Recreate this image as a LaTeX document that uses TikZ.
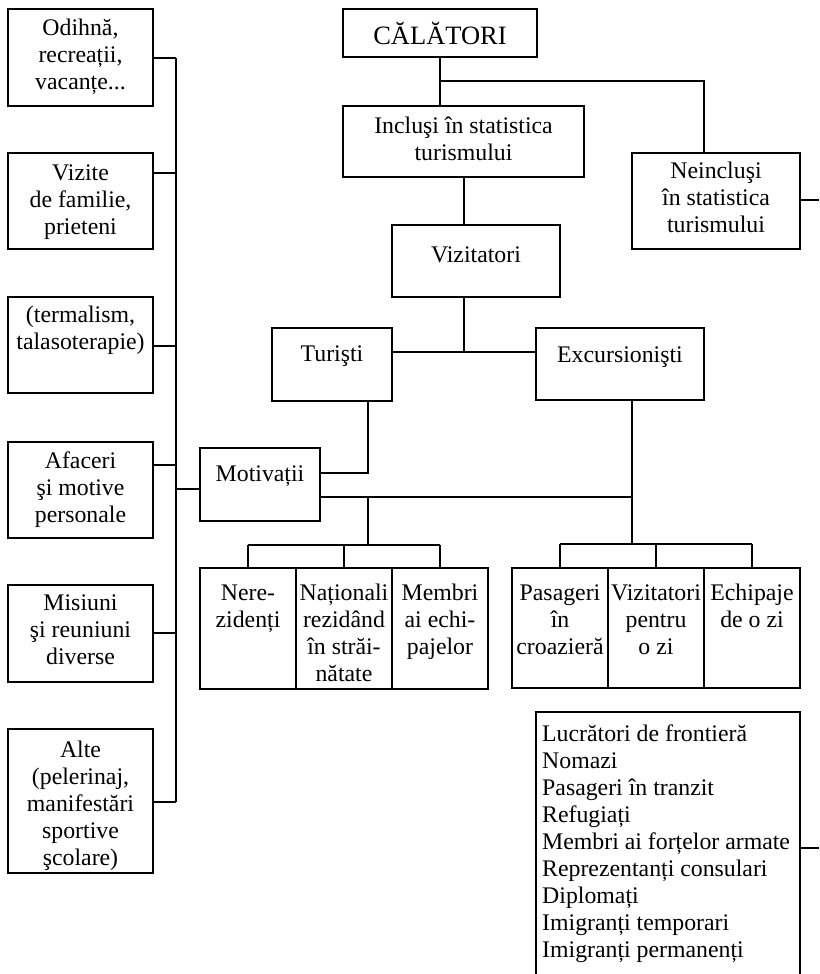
\documentclass[tikz,border=0pt]{standalone}
\usepackage{fontspec}
\setmainfont{Liberation Serif}
\usetikzlibrary{fit}
\newcommand\mkbox[5]{\node[box, fit={(#2,#3) (#4,#5)}] (#1) {};}
\begin{document}
\begin{tikzpicture}[x=1pt,y=-1pt,
  box/.style={draw, line width=1.5pt, inner sep=0pt, rectangle},
  lbl/.style={anchor=north, inner sep=0pt, align=center, font=\fontsize{23.8}{27}\selectfont},
  link/.style={line width=1.5pt, line join=miter}]
\useasboundingbox (0,0) rectangle (819,974);
\clip (0,0) rectangle (819,974);

% ---- boxes ----
\mkbox{cal}{343}{9}{537}{57}
\mkbox{inc}{343}{106}{584}{177}
\mkbox{neinc}{632}{153}{800}{249}
\mkbox{viz}{392}{225}{560}{297}
\mkbox{tur}{272}{328}{392}{401}
\mkbox{exc}{536}{328}{704}{400}
\mkbox{mot}{200}{448}{320}{521}

\mkbox{odihna}{8}{9}{153}{106}
\mkbox{vizite}{8}{153}{153}{249}
\mkbox{termal}{8}{297}{153}{393}
\mkbox{afaceri}{8}{442}{153}{538}
\mkbox{misiuni}{8}{585}{153}{682}
\mkbox{alte}{8}{729}{153}{873}

\mkbox{nerez}{200}{568}{296}{689}
\mkbox{natio}{296}{568}{392}{689}
\mkbox{membri}{392}{568}{488}{689}
\mkbox{pasag}{512}{568}{608}{688}
\mkbox{vizzi}{608}{568}{704}{688}
\mkbox{echip}{704}{568}{800}{688}

\mkbox{lista}{536}{712}{800}{1000}

% ---- texts ----
\node[lbl, anchor=base, font=\fontsize{26.5}{30}\selectfont] (t-cal) at (cal.center |- 0,45) {CĂLĂTORI};
\node[lbl] (t-inc) at ([yshift=-11pt]inc.north) {Incluşi în statistica\\turismului};
\node[lbl] (t-neinc) at ([yshift=-10pt]neinc.north) {Neincluşi\\în statistica\\turismului};
\node[lbl] (t-viz) at ([yshift=-22pt]viz.north) {Vizitatori};
\node[lbl] (t-tur) at ([yshift=-18pt]tur.north) {Turişti};
\node[lbl] (t-exc) at ([yshift=-19pt]exc.north) {Excursionişti};
\node[lbl] (t-mot) at ([yshift=-18pt]mot.north) {Motivații};

\node[lbl] (t-odihna) at ([yshift=-11pt]odihna.north) {Odihnă,\\recreații,\\vacanțe...};
\node[lbl] (t-vizite) at ([yshift=-12pt]vizite.north) {Vizite\\de familie,\\prieteni};
\node[lbl] (t-termal) at ([yshift=-10pt]termal.north) {(termalism,\\talasoterapie)};
\node[lbl] (t-afaceri) at ([yshift=-10pt]afaceri.north) {Afaceri\\şi motive\\personale};
\node[lbl] (t-misiuni) at ([yshift=-10pt]misiuni.north) {Misiuni\\şi reuniuni\\diverse};
\node[lbl] (t-alte) at ([yshift=-13pt]alte.north) {Alte\\(pelerinaj,\\manifestări\\sportive\\şcolare)};

\node[lbl] (t-nerez) at ([yshift=-17pt]nerez.north) {Nere-\\zidenți};
\node[lbl] (t-natio) at ([yshift=-17pt]natio.north) {Naționali\\rezidând\\în străi-\\nătate};
\node[lbl] (t-membri) at ([yshift=-17pt]membri.north) {Membri\\ai echi-\\pajelor};
\node[lbl] (t-pasag) at ([yshift=-17pt]pasag.north) {Pasageri\\în\\croazieră};
\node[lbl] (t-vizzi) at ([yshift=-17pt]vizzi.north) {Vizitatori\\pentru\\o zi};
\node[lbl] (t-echip) at ([yshift=-17pt]echip.north) {Echipaje\\de o zi};

\node[lbl, anchor=north west, align=left] (t-lista) at (542,725)
  {Lucrători de frontieră\\Nomazi\\Pasageri în tranzit\\Refugiați\\Membri ai forțelor armate\\Reprezentanți consulari\\Diplomați\\Imigranți temporari\\Imigranți permanenți};

% ---- junction points ----
\coordinate (j-cal) at (440,81);
\coordinate (n-top) at (704,153);
\coordinate (j-viz) at (464,352);
\coordinate (j-tur) at (368,473);
\coordinate (j-mot) at (368,497);
\coordinate (j-exc) at (632,497);
\coordinate (b-left) at (368,545);
\coordinate (b-right) at (632,544);
\coordinate (r-neinc) at (819,200);
\coordinate (r-lista) at (819,848);
\coordinate (spine-top) at (176,58);
\coordinate (spine-bot) at (176,802);

% ---- connectors ----
\draw[link] (cal.south -| j-cal) -- (j-cal |- inc.north);
\draw[link] (j-cal) -| (n-top);
\draw[link] (inc.south -| j-viz) -- (j-viz |- viz.north);
\draw[link] (viz.south -| j-viz) -- (j-viz);
\draw[link] (tur.east |- j-viz) -- (exc.west |- j-viz);
\draw[link] (tur.south -| j-tur) -- (j-tur) -- (mot.east |- j-tur);
\draw[link] (mot.east |- j-mot) -- (j-exc);
\draw[link] (exc.south -| j-exc) -- (b-right);
\draw[link] (j-mot) -- (b-left);
\draw[link] (nerez.north |- b-left) -- (membri.north |- b-left);
\draw[link] (pasag.north |- b-right) -- (echip.north |- b-right);
\foreach \n in {nerez,natio,membri}{\draw[link] (\n.north |- b-left) -- (\n.north);}
\foreach \n in {pasag,vizzi,echip}{\draw[link] (\n.north |- b-right) -- (\n.north);}
\draw[link] (neinc.east |- r-neinc) -- (r-neinc);
\draw[link] (lista.east |- r-lista) -- (r-lista);

\draw[link] (spine-top) -- (spine-bot);
\draw[link] (odihna.east |- spine-top) -- (spine-top);
\draw[link] (vizite.east |- 0,173) -- (spine-top |- 0,173);
\draw[link] (termal.east |- 0,346) -- (spine-top |- 0,346);
\draw[link] (afaceri.east |- 0,465) -- (spine-top |- 0,465);
\draw[link] (misiuni.east |- 0,633) -- (spine-top |- 0,633);
\draw[link] (alte.east |- spine-bot) -- (spine-bot);
\draw[link] (spine-top |- 0,489) -- (mot.west |- 0,489);
\end{tikzpicture}
\end{document}
